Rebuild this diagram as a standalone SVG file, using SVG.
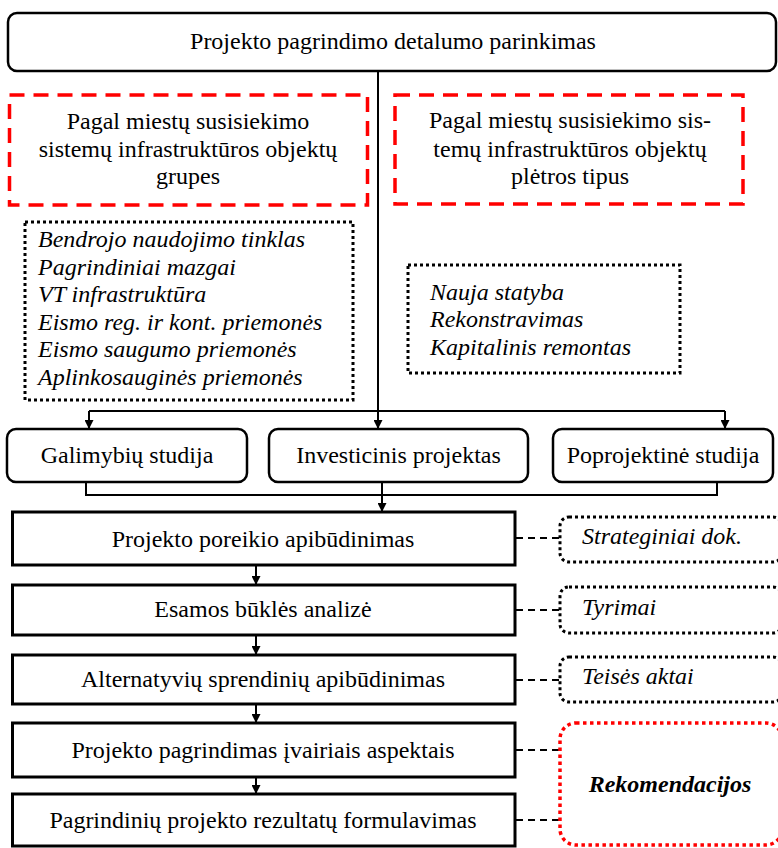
<svg xmlns="http://www.w3.org/2000/svg" width="778" height="848" viewBox="0 0 778 848">
  <style>
    text { font-family: 'Liberation Serif', Tinos, 'Times New Roman', 'DejaVu Serif', serif; font-size: 24px; fill: #000; }
    .c { text-anchor: middle; }
    .it { font-style: italic; }
    .bi { font-style: italic; font-weight: bold; }
    .solid { fill: #fff; stroke: #000; stroke-width: 2.5; }
    .step { fill: #fff; stroke: #000; stroke-width: 3; }
    .reddash { fill: none; stroke: #ff0000; stroke-width: 3.5; stroke-dasharray: 15 9; }
    .dots { fill: none; stroke: #000; stroke-width: 3; stroke-dasharray: 3 3; }
    .reddots { fill: none; stroke: #ff0000; stroke-width: 3.5; stroke-dasharray: 3.5 3.5; }
    .line { fill: none; stroke: #000; stroke-width: 2; }
    .dash { fill: none; stroke: #000; stroke-width: 2; stroke-dasharray: 7 5; }
  </style>
  <defs>
    <marker id="arrow" viewBox="0 0 10 10" refX="10" refY="5" markerWidth="9" markerHeight="9" markerUnits="userSpaceOnUse" orient="auto">
      <path d="M0,0 L10,5 L0,10 z" fill="#000"/>
    </marker>
  </defs>

  <!-- connectors -->
  <g id="connectors">
    <line class="line" x1="378" y1="71" x2="378" y2="429" marker-end="url(#arrow)"/>
    <line class="line" x1="89" y1="411" x2="725" y2="411"/>
    <line class="line" x1="89" y1="411" x2="89" y2="429" marker-end="url(#arrow)"/>
    <line class="line" x1="725" y1="411" x2="725" y2="429" marker-end="url(#arrow)"/>
    <polyline class="line" points="86,482 86,495 717,495 717,482"/>
    <line class="line" x1="382" y1="482" x2="382" y2="512" marker-end="url(#arrow)"/>
    <line class="line" x1="256" y1="565" x2="256" y2="585" marker-end="url(#arrow)"/>
    <line class="line" x1="256" y1="635" x2="256" y2="655" marker-end="url(#arrow)"/>
    <line class="line" x1="256" y1="704" x2="256" y2="723" marker-end="url(#arrow)"/>
    <line class="line" x1="256" y1="777" x2="256" y2="794" marker-end="url(#arrow)"/>
    <line class="dash" x1="516" y1="538" x2="559" y2="538"/>
    <line class="dash" x1="516" y1="610" x2="559" y2="610"/>
    <line class="dash" x1="516" y1="680" x2="559" y2="680"/>
    <line class="dash" x1="516" y1="750" x2="559" y2="750"/>
    <line class="dash" x1="516" y1="820" x2="559" y2="820"/>
  </g>

  <!-- title -->
  <g id="title">
    <rect class="solid" x="8" y="13" width="768" height="58" rx="9"/>
    <text class="c" x="393" y="49">Projekto pagrindimo detalumo parinkimas</text>
  </g>

  <!-- classification criteria -->
  <g id="by-groups">
    <rect class="reddash" x="9.5" y="95" width="358" height="110"/>
    <text class="c" x="188" y="129">Pagal miestų susisiekimo</text>
    <text class="c" x="188" y="157">sistemų infrastruktūros objektų</text>
    <text class="c" x="188" y="184">grupes</text>
  </g>
  <g id="by-types">
    <rect class="reddash" x="395" y="95" width="348" height="109"/>
    <text class="c" x="570" y="128">Pagal miestų susisiekimo sis-</text>
    <text class="c" x="570" y="157">temų infrastruktūros objektų</text>
    <text class="c" x="570" y="184">plėtros tipus</text>
  </g>

  <g id="group-list">
    <rect class="dots" x="25" y="222" width="328" height="178"/>
    <text class="it" x="38" y="247">Bendrojo naudojimo tinklas</text>
    <text class="it" x="38" y="275">Pagrindiniai mazgai</text>
    <text class="it" x="38" y="302">VT infrastruktūra</text>
    <text class="it" x="38" y="330">Eismo reg. ir kont. priemonės</text>
    <text class="it" x="38" y="357">Eismo saugumo priemonės</text>
    <text class="it" x="38" y="385">Aplinkosauginės priemonės</text>
  </g>
  <g id="type-list">
    <rect class="dots" x="408" y="265" width="272" height="108"/>
    <text class="it" x="430" y="300">Nauja statyba</text>
    <text class="it" x="430" y="327">Rekonstravimas</text>
    <text class="it" x="430" y="355">Kapitalinis remontas</text>
  </g>

  <!-- study types -->
  <g id="feasibility">
    <rect class="solid" x="7" y="429" width="240" height="53" rx="9"/>
    <text class="c" x="127" y="463">Galimybių studija</text>
  </g>
  <g id="investment">
    <rect class="solid" x="269" y="429" width="259" height="53" rx="9"/>
    <text class="c" x="398.5" y="463">Investicinis projektas</text>
  </g>
  <g id="post-project">
    <rect class="solid" x="553" y="429" width="220" height="53" rx="9"/>
    <text class="c" x="663" y="463">Poprojektinė studija</text>
  </g>

  <!-- steps -->
  <g id="step1">
    <rect class="step" x="12.5" y="512" width="502.5" height="53"/>
    <text class="c" x="263" y="547">Projekto poreikio apibūdinimas</text>
  </g>
  <g id="step2">
    <rect class="step" x="12.5" y="585" width="502.5" height="50"/>
    <text class="c" x="263" y="617">Esamos būklės analizė</text>
  </g>
  <g id="step3">
    <rect class="step" x="12.5" y="655" width="502.5" height="49"/>
    <text class="c" x="263" y="687">Alternatyvių sprendinių apibūdinimas</text>
  </g>
  <g id="step4">
    <rect class="step" x="12.5" y="723" width="502.5" height="54"/>
    <text class="c" x="263" y="758">Projekto pagrindimas įvairiais aspektais</text>
  </g>
  <g id="step5">
    <rect class="step" x="12.5" y="794" width="502.5" height="52"/>
    <text class="c" x="263" y="828">Pagrindinių projekto rezultatų formulavimas</text>
  </g>

  <!-- sources -->
  <g id="strategic-docs">
    <rect class="dots" x="560" y="517" width="222" height="45" rx="9"/>
    <text class="it" x="582" y="544">Strateginiai dok.</text>
  </g>
  <g id="research">
    <rect class="dots" x="560" y="587" width="222" height="46" rx="9"/>
    <text class="it" x="582" y="615">Tyrimai</text>
  </g>
  <g id="legal-acts">
    <rect class="dots" x="560" y="657" width="222" height="45" rx="9"/>
    <text class="it" x="582" y="684">Teisės aktai</text>
  </g>
  <g id="recommendations">
    <rect class="reddots" x="560" y="723" width="222" height="122" rx="16"/>
    <text class="bi c" x="670" y="792">Rekomendacijos</text>
  </g>
</svg>
